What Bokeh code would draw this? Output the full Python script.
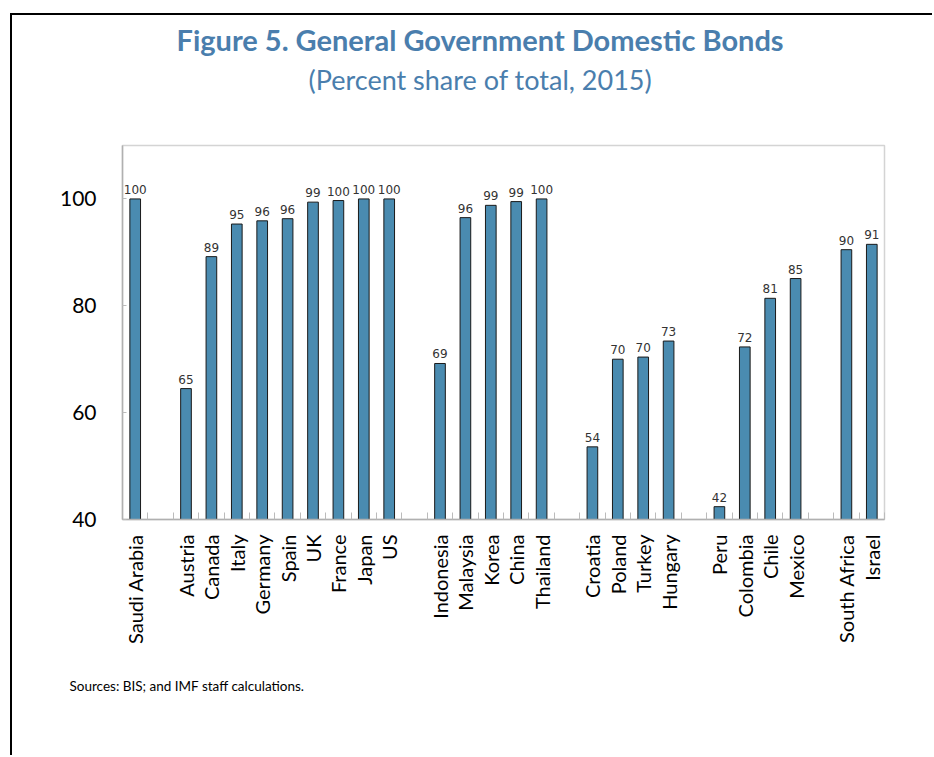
import math
from bokeh.plotting import figure
from bokeh.models import ColumnDataSource, FixedTicker, Range1d, Title
from bokeh.core.properties import value
from bokeh.embed import file_html
from bokeh.resources import INLINE

# ---- data (empty strings are spacer slots between country groups) ----
countries = ["Saudi Arabia", "",
             "Austria", "Canada", "Italy", "Germany", "Spain", "UK", "France", "Japan", "US", "",
             "Indonesia", "Malaysia", "Korea", "China", "Thailand", "",
             "Croatia", "Poland", "Turkey", "Hungary", "",
             "Peru", "Colombia", "Chile", "Mexico", "",
             "South Africa", "Israel"]
shares = [100.0, None,
          64.5, 89.2, 95.3, 95.9, 96.3, 99.4, 99.7, 100.0, 100.0, None,
          69.2, 96.5, 98.8, 99.5, 100.0, None,
          53.6, 70.0, 70.4, 73.4, None,
          42.4, 72.3, 81.4, 85.1, None,
          90.5, 91.5]
share_labels = ["100", "",
                "65", "89", "95", "96", "96", "99", "100", "100", "100", "",
                "69", "96", "99", "99", "100", "",
                "54", "70", "70", "73", "",
                "42", "72", "81", "85", "",
                "90", "91"]
y_ticks = [40, 60, 80, 100]

title_text = "Figure 5. General Government Domestic Bonds"
subtitle_text = "(Percent share of total, 2015)"
source_text = "Sources: BIS; and IMF staff calculations."

# ---- layout constants ----
OX, OY = 12, 15               # page offset of canvas (inside the black page border)
W, H = 934 - OX, 757 - OY     # canvas size
FL, FR, FT, FB = 122 - OX, 884 - OX, 145 - OY, 519 - OY   # frame edges on canvas

# ---- build ----
idx = [i for i, v in enumerate(shares) if v is not None]
xs = [i + 0.5 for i in idx]
src = ColumnDataSource(dict(x=xs, top=[shares[i] for i in idx],
                            lab=[share_labels[i] for i in idx]))

n = len(countries)
p = figure(width=W, height=H, output_backend="svg", toolbar_location=None,
           x_range=Range1d(0, n), y_range=Range1d(40, 110),
           min_border_left=FL, min_border_right=W - FR,
           min_border_top=FT, min_border_bottom=H - FB)
p.styles = {"margin-left": "10px", "margin-top": "13px",
            "border-left": "2px solid black", "border-top": "2px solid black"}
p.background_fill_color = "white"
p.border_fill_color = "white"
p.outline_line_color = "#d4d4d4"
p.outline_line_width = 1.5
p.grid.visible = False

BAR = "#4a8bb0"
p.vbar(x="x", top="top", bottom=40, width=0.42, source=src,
       fill_color=BAR, line_color="#1a1a1a", line_width=1)
p.text(x="x", y="top", text="lab", source=src, y_offset=-5,
       text_align="center", text_baseline="bottom",
       text_font=value("DejaVu Sans"), text_font_size="12px", text_color="#333333")

# x axis
xa = p.xaxis[0]
centers = [i + 0.5 for i in range(n)]
xa.ticker = FixedTicker(ticks=centers, minor_ticks=list(range(n + 1)))
xa.major_label_overrides = {c: countries[i] for i, c in enumerate(centers)}
xa.major_label_orientation = math.pi / 2
xa.major_tick_line_color = None
xa.minor_tick_in = 7
xa.minor_tick_out = 0
xa.minor_tick_line_color = "#bbbbbb"
xa.axis_line_color = "#b0b0b0"
xa.axis_line_width = 1.5
xa.major_label_text_font = "Lato"
xa.major_label_text_font_size = "20px"
xa.major_label_text_color = "#000000"
xa.major_label_standoff = 9

ya = p.yaxis[0]
ya.ticker = FixedTicker(ticks=y_ticks)
ya.major_tick_in = 4
ya.major_tick_out = 0
ya.major_tick_line_color = "#bbbbbb"
ya.minor_tick_line_color = None
ya.axis_line_color = "#b0b0b0"
ya.axis_line_width = 1.5
ya.major_label_text_font = "Lato"
ya.major_label_text_font_size = "21px"
ya.major_label_text_color = "#000000"
ya.major_label_standoff = 26

# titles / notes (above panel stacks outward from the frame)
TCOL = "#4a7ead"
p.title = None
p.add_layout(Title(text=" ", standoff=45, text_font_size="1px",
                   text_color="white"), "above")       # blank gap under the subtitle
p.add_layout(Title(text=subtitle_text, align="left", offset=186, standoff=4,
                   text_font="Lato", text_font_style="normal", text_font_size="27px",
                   text_color=TCOL), "above")
p.add_layout(Title(text=title_text, align="left", offset=54, standoff=4,
                   text_font="Lato", text_font_style="bold", text_font_size="29px",
                   text_color=TCOL), "above")
p.add_layout(Title(text=source_text, align="left", offset=-53, standoff=59,
                   text_font="Lato", text_font_style="normal", text_font_size="13.5px",
                   text_color="#000000"), "below")

open("out.html", "w").write(file_html(p, INLINE))
